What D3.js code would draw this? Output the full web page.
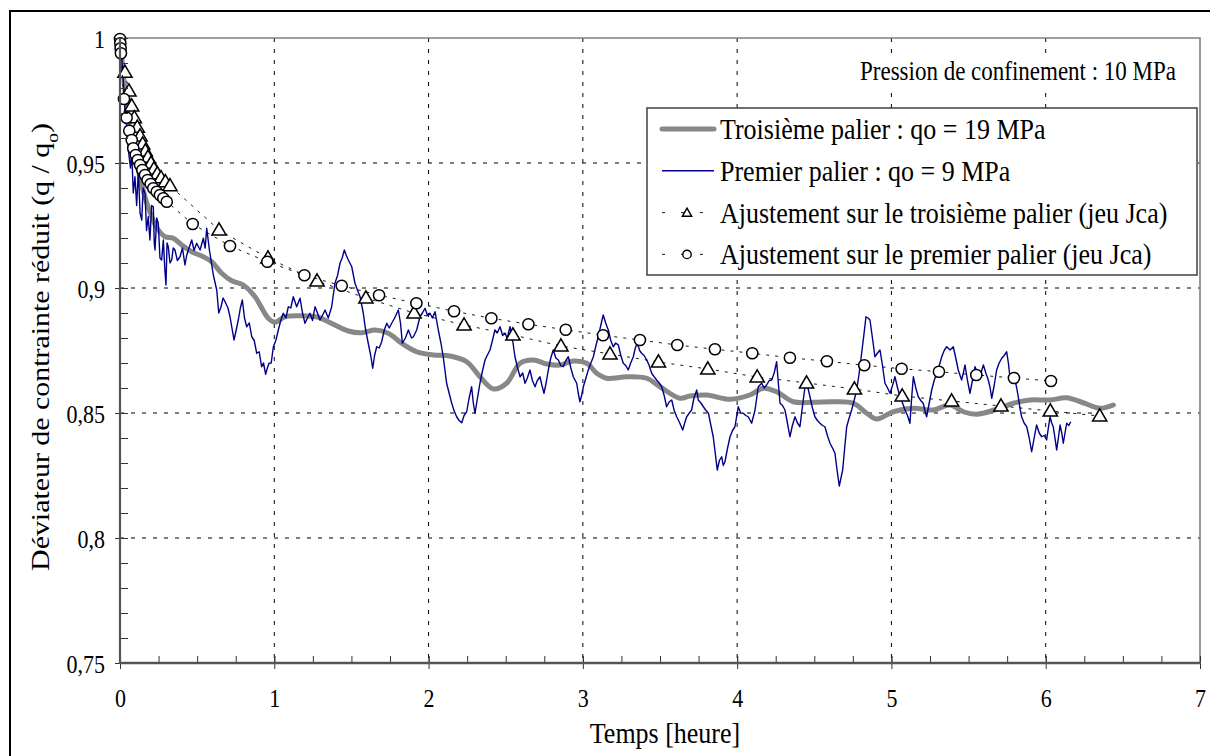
<!DOCTYPE html>
<html><head><meta charset="utf-8">
<script src="https://cdn.jsdelivr.net/npm/d3@7/dist/d3.min.js"></script>
<style>
body{margin:0;background:#fff;}
svg{display:block;}
text{font-family:"Liberation Serif","Times New Roman",serif;fill:#000;}
</style></head>
<body>
<svg id="chart" width="1210" height="756"></svg>
<script>
// ---------- DATA ----------
const xTicks = [0,1,2,3,4,5,6,7];
const xTickLabels = ["0","1","2","3","4","5","6","7"];
const yTicks = [0.75,0.8,0.85,0.9,0.95,1];
const yTickLabels = ["0,75","0,8","0,85","0,9","0,95","1"];
const seriesNames = [
  "Troisième palier : qo = 19 MPa",
  "Premier palier : qo = 9 MPa",
  "Ajustement sur le troisième palier (jeu Jca)",
  "Ajustement sur le premier palier (jeu Jca)"
];
const noteText = "Pression de confinement : 10 MPa";
const xTitle = "Temps [heure]";

// Troisième palier (grey thick line) [time h, q/q0]
const troisiemePalier = [
[0,1.000],[0.019,0.9872],[0.039,0.9752],[0.065,0.9632],[0.104,0.9512],[0.149,0.9392],[0.194,0.9304],
[0.240,0.924],[0.292,0.9205],[0.345,0.9199],[0.400,0.9172],[0.465,0.9145],[0.540,0.9125],[0.594,0.9105],
[0.659,0.9059],[0.724,0.9029],[0.799,0.9012],[0.875,0.8965],[0.961,0.8879],[1.005,0.8863],[1.069,0.8885],
[1.178,0.8889],[1.285,0.8883],[1.350,0.8865],[1.480,0.8828],[1.567,0.8821],[1.653,0.8832],[1.739,0.8819],
[1.826,0.8779],[1.923,0.8745],[2.031,0.8732],[2.139,0.8728],[2.247,0.8705],[2.333,0.8645],[2.420,0.8596],
[2.506,0.8619],[2.593,0.8699],[2.679,0.8712],[2.766,0.8696],[2.852,0.8692],[2.938,0.8708],[3.025,0.8699],
[3.090,0.8659],[3.154,0.8639],[3.284,0.8645],[3.414,0.8639],[3.500,0.8605],[3.630,0.8559],[3.694,0.8568],
[3.803,0.8572],[3.954,0.8555],[4.083,0.8572],[4.169,0.8599],[4.256,0.8585],[4.364,0.8545],[4.494,0.8543],
[4.623,0.8545],[4.753,0.8539],[4.840,0.8499],[4.904,0.8476],[5.012,0.8505],[5.142,0.8519],[5.271,0.8512],
[5.380,0.8532],[5.466,0.8505],[5.553,0.8495],[5.682,0.8515],[5.790,0.8539],[5.898,0.8552],[6.028,0.8552],
[6.136,0.8561],[6.243,0.8541],[6.352,0.8519],[6.438,0.8532]
];

// Premier palier (blue thin line) [time h, q/q0]
const premierPalier = [
[0.000,1.000],[0.006,0.9972],[0.019,0.9852],[0.032,0.9712],[0.045,0.9632],[0.054,0.9552],[0.068,0.9480],
[0.076,0.9545],[0.086,0.9380],[0.097,0.9445],[0.108,0.9330],[0.119,0.9472],[0.130,0.9300],[0.141,0.9272],
[0.150,0.9400],[0.162,0.9379],[0.172,0.9230],[0.183,0.9285],[0.194,0.9192],[0.205,0.9330],[0.216,0.9325],
[0.222,0.9180],[0.227,0.9152],[0.238,0.9280],[0.248,0.9259],[0.259,0.9120],[0.270,0.9112],[0.281,0.9192],
[0.290,0.9080],[0.298,0.9012],[0.305,0.9180],[0.313,0.9165],[0.324,0.9100],[0.335,0.9112],[0.345,0.9160],
[0.356,0.9152],[0.372,0.9110],[0.389,0.9125],[0.405,0.9160],[0.421,0.9092],[0.432,0.9130],[0.443,0.9152],
[0.465,0.9192],[0.480,0.9150],[0.497,0.9179],[0.519,0.9152],[0.540,0.9199],[0.552,0.9160],[0.562,0.9239],
[0.580,0.9150],[0.605,0.9052],[0.627,0.8992],[0.640,0.8900],[0.655,0.8925],[0.668,0.8960],[0.681,0.8945],
[0.700,0.8920],[0.713,0.8885],[0.739,0.8792],[0.767,0.8872],[0.780,0.8920],[0.793,0.8952],[0.807,0.8880],
[0.821,0.8845],[0.838,0.8860],[0.854,0.8805],[0.870,0.8790],[0.886,0.8739],[0.902,0.8745],[0.918,0.8685],
[0.930,0.8700],[0.944,0.8655],[0.955,0.8680],[0.966,0.8699],[0.980,0.8700],[0.994,0.8765],[1.010,0.8790],
[1.026,0.8832],[1.042,0.8870],[1.058,0.8899],[1.075,0.8880],[1.091,0.8925],[1.107,0.8920],[1.123,0.8965],
[1.145,0.8925],[1.167,0.8959],[1.183,0.8900],[1.199,0.8859],[1.215,0.8880],[1.231,0.8899],[1.248,0.8870],
[1.264,0.8925],[1.280,0.8900],[1.296,0.8872],[1.312,0.8890],[1.329,0.8912],[1.350,0.8880],[1.372,0.8925],
[1.393,0.9019],[1.410,0.9050],[1.426,0.9099],[1.440,0.9120],[1.454,0.9152],[1.467,0.9130],[1.480,0.9112],
[1.502,0.9085],[1.523,0.9019],[1.540,0.8990],[1.556,0.8965],[1.577,0.8899],[1.590,0.8840],[1.609,0.8779],
[1.625,0.8730],[1.638,0.8679],[1.650,0.8730],[1.664,0.8765],[1.680,0.8760],[1.696,0.8785],[1.712,0.8830],
[1.729,0.8859],[1.745,0.8840],[1.761,0.8859],[1.780,0.8880],[1.804,0.8912],[1.818,0.8860],[1.830,0.8779],
[1.850,0.8800],[1.869,0.8832],[1.890,0.8800],[1.902,0.8805],[1.923,0.8832],[1.944,0.8885],[1.960,0.8900],
[1.977,0.8919],[1.993,0.8890],[2.009,0.8899],[2.025,0.8880],[2.042,0.8905],[2.063,0.8832],[2.080,0.8780],
[2.095,0.8725],[2.117,0.8619],[2.133,0.8580],[2.150,0.8539],[2.165,0.8510],[2.182,0.8485],[2.198,0.8470],
[2.215,0.8461],[2.230,0.8490],[2.247,0.8505],[2.263,0.8560],[2.279,0.8605],[2.290,0.8540],[2.301,0.8499],
[2.317,0.8560],[2.333,0.8619],[2.350,0.8670],[2.366,0.8712],[2.380,0.8730],[2.398,0.8752],[2.414,0.8790],
[2.430,0.8832],[2.445,0.8820],[2.463,0.8845],[2.480,0.8810],[2.495,0.8819],[2.510,0.8800],[2.528,0.8845],
[2.545,0.8790],[2.560,0.8725],[2.577,0.8680],[2.593,0.8645],[2.610,0.8660],[2.625,0.8619],[2.640,0.8640],
[2.657,0.8672],[2.673,0.8630],[2.690,0.8605],[2.705,0.8630],[2.722,0.8645],[2.735,0.8610],[2.748,0.8579],
[2.762,0.8620],[2.776,0.8672],[2.792,0.8720],[2.808,0.8752],[2.825,0.8720],[2.841,0.8712],[2.857,0.8690],
[2.873,0.8685],[2.890,0.8710],[2.906,0.8725],[2.922,0.8680],[2.938,0.8645],[2.960,0.8619],[2.970,0.8580],
[2.981,0.8545],[2.992,0.8570],[3.003,0.8605],[3.020,0.8640],[3.035,0.8672],[3.052,0.8700],[3.068,0.8725],
[3.085,0.8770],[3.100,0.8805],[3.116,0.8850],[3.132,0.8892],[3.148,0.8860],[3.165,0.8832],[3.181,0.8790],
[3.197,0.8765],[3.213,0.8780],[3.230,0.8772],[3.246,0.8730],[3.262,0.8699],[3.278,0.8690],[3.294,0.8672],
[3.310,0.8700],[3.327,0.8725],[3.340,0.8760],[3.353,0.8779],[3.368,0.8750],[3.381,0.8739],[3.397,0.8730],
[3.414,0.8712],[3.430,0.8690],[3.446,0.8659],[3.462,0.8645],[3.478,0.8632],[3.495,0.8620],[3.511,0.8605],
[3.527,0.8570],[3.543,0.8525],[3.560,0.8545],[3.576,0.8552],[3.592,0.8510],[3.608,0.8485],[3.628,0.8460],
[3.647,0.8432],[3.660,0.8460],[3.673,0.8485],[3.690,0.8500],[3.705,0.8512],[3.720,0.8560],[3.738,0.8592],
[3.748,0.8552],[3.765,0.8540],[3.781,0.8525],[3.798,0.8510],[3.814,0.8499],[3.830,0.8450],[3.845,0.8405],
[3.858,0.8340],[3.871,0.8272],[3.885,0.8310],[3.900,0.8325],[3.910,0.8290],[3.921,0.8305],[3.938,0.8360],
[3.954,0.8405],[3.970,0.8430],[3.986,0.8445],[4.007,0.8525],[4.023,0.8500],[4.040,0.8499],[4.056,0.8490],
[4.072,0.8485],[4.094,0.8459],[4.116,0.8512],[4.137,0.8605],[4.159,0.8619],[4.175,0.8600],[4.191,0.8612],
[4.208,0.8630],[4.224,0.8632],[4.240,0.8660],[4.256,0.8705],[4.267,0.8620],[4.278,0.8539],[4.294,0.8530],
[4.310,0.8512],[4.326,0.8460],[4.342,0.8405],[4.358,0.8450],[4.375,0.8485],[4.391,0.8460],[4.407,0.8445],
[4.426,0.8540],[4.446,0.8632],[4.459,0.8600],[4.472,0.8565],[4.488,0.8520],[4.504,0.8485],[4.520,0.8470],
[4.537,0.8459],[4.553,0.8450],[4.569,0.8445],[4.585,0.8410],[4.602,0.8379],[4.618,0.8360],[4.634,0.8339],
[4.648,0.8270],[4.662,0.8208],[4.673,0.8240],[4.684,0.8272],[4.697,0.8360],[4.710,0.8445],[4.726,0.8480],
[4.742,0.8512],[4.758,0.8550],[4.775,0.8592],[4.791,0.8660],[4.807,0.8739],[4.821,0.8810],[4.835,0.8885],
[4.848,0.8880],[4.861,0.8872],[4.877,0.8800],[4.893,0.8725],[4.910,0.8740],[4.926,0.8752],[4.942,0.8690],
[4.958,0.8619],[4.975,0.8600],[4.991,0.8579],[5.007,0.8610],[5.023,0.8645],[5.040,0.8600],[5.056,0.8565],
[5.072,0.8540],[5.088,0.8512],[5.104,0.8490],[5.120,0.8459],[5.131,0.8560],[5.142,0.8645],[5.158,0.8600],
[5.174,0.8565],[5.190,0.8550],[5.206,0.8539],[5.217,0.8510],[5.228,0.8485],[5.245,0.8540],[5.261,0.8592],
[5.277,0.8630],[5.293,0.8659],[5.310,0.8690],[5.326,0.8725],[5.342,0.8750],[5.358,0.8765],[5.380,0.8752],
[5.401,0.8765],[5.417,0.8720],[5.433,0.8672],[5.445,0.8650],[5.455,0.8632],[5.466,0.8660],[5.477,0.8692],
[5.493,0.8630],[5.509,0.8579],[5.525,0.8630],[5.542,0.8685],[5.558,0.8660],[5.574,0.8645],[5.585,0.8670],
[5.596,0.8692],[5.612,0.8660],[5.628,0.8632],[5.640,0.8600],[5.650,0.8559],[5.666,0.8610],[5.682,0.8672],
[5.698,0.8700],[5.715,0.8719],[5.731,0.8730],[5.747,0.8745],[5.758,0.8700],[5.768,0.8645],[5.785,0.8640],
[5.801,0.8632],[5.812,0.8600],[5.822,0.8565],[5.833,0.8520],[5.844,0.8485],[5.860,0.8460],[5.877,0.8445],
[5.893,0.8400],[5.909,0.8345],[5.925,0.8400],[5.941,0.8452],[5.958,0.8420],[5.974,0.8405],[5.990,0.8410],
[6.006,0.8392],[6.017,0.8440],[6.028,0.8485],[6.039,0.8460],[6.049,0.8445],[6.060,0.8400],[6.071,0.8352],
[6.082,0.8400],[6.093,0.8452],[6.104,0.8420],[6.114,0.8379],[6.125,0.8420],[6.136,0.8459],[6.150,0.8450],
[6.162,0.8465]
];

// Fit on third stage (triangles)
const ajustTroisieme = [
[0.032,0.9863],[0.058,0.9788],[0.076,0.9728],[0.093,0.9681],[0.112,0.9643],[0.130,0.9608],[0.147,0.9576],
[0.164,0.9548],[0.181,0.9523],[0.201,0.9499],[0.220,0.9476],[0.242,0.9457],[0.266,0.9441],[0.294,0.9425],
[0.324,0.9409],[0.642,0.9232],[0.959,0.9120],[1.277,0.9028],[1.594,0.8960],[1.906,0.8900],[2.230,0.8852],
[2.547,0.8812],[2.858,0.8768],[3.176,0.8736],[3.490,0.8704],[3.810,0.8676],[4.130,0.8644],[4.450,0.8620],
[4.760,0.8596],[5.070,0.8568],[5.390,0.8548],[5.710,0.8528],[6.030,0.8508],[6.350,0.8488]
];

// Fit on first stage (circles)
const ajustPremier = [
[0.000,0.9996],[0.002,0.9979],[0.004,0.9959],[0.006,0.9939],[0.026,0.9756],[0.043,0.9681],[0.060,0.9629],
[0.076,0.9592],[0.086,0.9559],[0.102,0.9532],[0.115,0.9512],[0.130,0.9492],[0.145,0.9472],[0.162,0.9452],
[0.179,0.9432],[0.199,0.9416],[0.216,0.9399],[0.238,0.9385],[0.259,0.9372],[0.281,0.9359],[0.303,0.9345],
[0.471,0.9256],[0.713,0.9168],[0.955,0.9105],[1.195,0.9051],[1.437,0.9009],[1.679,0.8971],[1.921,0.8939],
[2.165,0.8907],[2.407,0.8879],[2.647,0.8855],[2.889,0.8833],[3.131,0.8811],[3.370,0.8792],[3.612,0.8772],
[3.856,0.8755],[4.098,0.8739],[4.342,0.8721],[4.582,0.8707],[4.824,0.8691],[5.066,0.8677],[5.308,0.8665],
[5.550,0.8652],[5.794,0.8640],[6.034,0.8628]
];

// ---------- DRAW ----------
const svg = d3.select("#chart");
const L = 120, R = 1200, T = 38, B = 663;
const x = d3.scaleLinear().domain([0,7]).range([L,R]);
const y = d3.scaleLinear().domain([0.75,1]).range([B,T]);
const SY = 1.15; // vertical text stretch of the reference

function stretchedText(g, tx, ty, str, size, anchor){
  return g.append("text")
    .attr("transform", `translate(${tx},${ty}) scale(1,${SY})`)
    .attr("text-anchor", anchor || "start")
    .style("font-size", size + "px")
    .text(str);
}

// outer frame
svg.append("rect").attr("x",10).attr("y",11).attr("width",1215).attr("height",760)
  .attr("fill","none").attr("stroke","#000").attr("stroke-width",2);

// gridlines
const grid = svg.append("g");
grid.selectAll("line.v").data(xTicks.filter(d => d > 0 && d < 7)).join("line")
  .attr("x1", d => x(d)).attr("x2", d => x(d)).attr("y1", T).attr("y2", B)
  .attr("stroke","#000").attr("stroke-width",1).attr("stroke-dasharray","4,7");
grid.selectAll("line.h").data(yTicks.filter(d => d > 0.75 && d < 1)).join("line")
  .attr("x1", L).attr("x2", R).attr("y1", d => y(d)).attr("y2", d => y(d))
  .attr("stroke","#000").attr("stroke-width",1).attr("stroke-dasharray","4,7");

// plot area border (top/right)
svg.append("path").attr("d", `M${L},${T}H${R}V${B}`).attr("fill","none")
  .attr("stroke","#808080").attr("stroke-width",1.6);

// series lines
const line = d3.line().x(d => x(d[0])).y(d => y(d[1]));
svg.append("path").datum(troisiemePalier)
  .attr("d", line.curve(d3.curveCatmullRom.alpha(0.5)))
  .attr("fill","none").attr("stroke","#888888").attr("stroke-width",5).attr("stroke-linejoin","round").attr("stroke-linecap","round");
svg.append("path").datum(premierPalier)
  .attr("d", d3.line().x(d => x(d[0])).y(d => y(d[1])))
  .attr("fill","none").attr("stroke","#000088").attr("stroke-width",1.4).attr("stroke-linejoin","round");

const linLine = d3.line().x(d => x(d[0])).y(d => y(d[1]));
// triangles series
svg.append("path").datum(ajustTroisieme).attr("d", linLine)
  .attr("fill","none").attr("stroke","#000").attr("stroke-width",0.9).attr("stroke-dasharray","3,6");
const tri = d3.symbol().type(d3.symbolTriangle).size(88);
svg.append("g").selectAll("path").data(ajustTroisieme).join("path")
  .attr("d", tri).attr("transform", d => `translate(${x(d[0])},${y(d[1])+1})`)
  .attr("fill","#fff").attr("stroke","#000").attr("stroke-width",1.5);
// circles series
svg.append("path").datum(ajustPremier).attr("d", linLine)
  .attr("fill","none").attr("stroke","#000").attr("stroke-width",0.9).attr("stroke-dasharray","3,6");
svg.append("g").selectAll("circle").data(ajustPremier).join("circle")
  .attr("cx", d => x(d[0])).attr("cy", d => y(d[1])).attr("r",5.6)
  .attr("fill","#fff").attr("stroke","#000").attr("stroke-width",1.5);

// axes
const xAxisG = svg.append("g").attr("transform",`translate(0,${B})`);
xAxisG.call(d3.axisBottom(x).tickValues(d3.range(0,7.001,0.25)).tickSize(-7).tickFormat(""))
  .call(g => g.select(".domain").remove())
  .call(g => g.selectAll("line").attr("stroke","#333").attr("stroke-width",1));
const xMajor = svg.append("g").attr("transform",`translate(0,${B})`);
xMajor.call(d3.axisBottom(x).tickValues(xTicks).tickSize(6).tickFormat((d,i)=>xTickLabels[i]))
  .call(g => g.select(".domain").remove())
  .call(g => g.selectAll("line").attr("y1",-7).attr("stroke","#333").attr("stroke-width",1))
  .call(g => g.selectAll("text").attr("y",null).attr("dy",null)
      .attr("transform",`translate(0,${707-B}) scale(1,${SY})`)
      .style("font-size","22px").style("font-family",'"Liberation Serif","Times New Roman",serif').attr("fill","#000"));

const yAxisG = svg.append("g").attr("transform",`translate(${L},0)`);
yAxisG.call(d3.axisLeft(y).tickValues(d3.range(0.75,1.0001,0.01)).tickSize(-8).tickFormat(""))
  .call(g => g.select(".domain").remove())
  .call(g => g.selectAll("line").attr("stroke","#333").attr("stroke-width",1));
const yMajor = svg.append("g").attr("transform",`translate(${L},0)`);
yMajor.call(d3.axisLeft(y).tickValues(yTicks).tickSize(5).tickFormat((d,i)=>yTickLabels[i]))
  .call(g => g.select(".domain").remove())
  .call(g => g.selectAll("line").attr("x1",8).attr("stroke","#333").attr("stroke-width",1))
  .call(g => g.selectAll("text").attr("x",null).attr("dy",null)
      .attr("transform",`translate(-15,9) scale(1,${SY})`)
      .style("font-size","22px").style("font-family",'"Liberation Serif","Times New Roman",serif').attr("fill","#000"));

// axis lines
svg.append("line").attr("x1",L).attr("x2",R+1).attr("y1",B).attr("y2",B).attr("stroke","#555").attr("stroke-width",2.5);
svg.append("line").attr("x1",L).attr("x2",L).attr("y1",T).attr("y2",B+1).attr("stroke","#555").attr("stroke-width",2.2);

// axis titles
stretchedText(svg, 665, 743, xTitle, 26, "middle");
const yt = svg.append("text")
  .attr("transform", `translate(49,347) scale(1,${SY}) rotate(-90)`)
  .attr("text-anchor","middle").style("font-size","26px");
yt.append("tspan").text("Déviateur de contrainte réduit (q / q");
yt.append("tspan").attr("baseline-shift","sub").style("font-size","17px").text("o");
yt.append("tspan").text(")");

// note
svg.append("rect").attr("x",850).attr("y",55).attr("width",340).attr("height",38).attr("fill","#fff");
stretchedText(svg, 1176, 80, noteText, 23, "end");

// legend
const lg = svg.append("g");
lg.append("rect").attr("x",647).attr("y",108).attr("width",550).attr("height",167)
  .attr("fill","#fff").attr("stroke","#404040").attr("stroke-width",1.5);
const rowY = i => 129 + i*41.8;
lg.append("line").attr("x1",662).attr("x2",714).attr("y1",rowY(0)).attr("y2",rowY(0))
  .attr("stroke","#888888").attr("stroke-width",5).attr("stroke-linecap","round");
lg.append("line").attr("x1",662).attr("x2",714).attr("y1",rowY(1)).attr("y2",rowY(1))
  .attr("stroke","#000088").attr("stroke-width",1.4);
[2,3].forEach(i => {
  lg.append("line").attr("x1",662).attr("x2",714).attr("y1",rowY(i)).attr("y2",rowY(i))
    .attr("stroke","#000").attr("stroke-width",0.9).attr("stroke-dasharray","3,16");
});
lg.append("path").attr("d", d3.symbol().type(d3.symbolTriangle).size(38))
  .attr("transform",`translate(687,${rowY(2)+1})`).attr("fill","#fff").attr("stroke","#000").attr("stroke-width",1.4);
lg.append("circle").attr("cx",687).attr("cy",rowY(3)).attr("r",4.2)
  .attr("fill","#fff").attr("stroke","#000").attr("stroke-width",1.4);
seriesNames.forEach((s,i) => stretchedText(lg, 720, rowY(i)+10, s, 26, "start"));
</script>
</body></html>
